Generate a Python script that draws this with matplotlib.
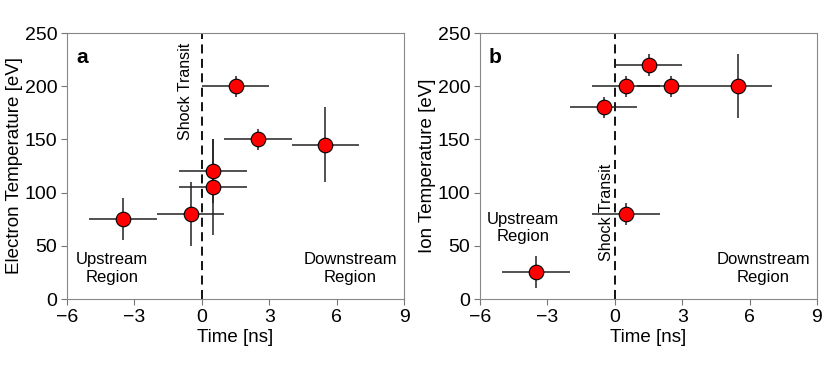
import numpy as np
import matplotlib
matplotlib.use('Agg')
import matplotlib.pyplot as plt

plt.rcParams['font.family'] = ['Liberation Sans', 'DejaVu Sans']

# panel a : electron temperature
te_t = [-3.5, -0.5, 0.5, 0.5, 1.5, 2.5, 5.5]
te_val = [75, 80, 120, 105, 200, 150, 145]
te_xerr = [1.5, 1.5, 1.5, 1.5, 1.5, 1.5, 1.5]
te_lo = [20, 30, 30, 45, 10, 10, 35]
te_hi = [20, 30, 30, 45, 10, 10, 35]

# panel b : ion temperature
ti_t = [-3.5, -0.5, 0.5, 1.5, 2.5, 5.5, 0.5]
ti_val = [25, 180, 200, 220, 200, 200, 80]
ti_xerr = [1.5, 1.5, 1.5, 1.5, 1.5, 1.5, 1.5]
ti_lo = [15, 10, 10, 10, 10, 30, 10]
ti_hi = [15, 10, 10, 10, 10, 30, 10]

xticks = [-6, -3, 0, 3, 6, 9]
yticks = [0, 50, 100, 150, 200, 250]

fig = plt.figure(figsize=(8.32, 3.65), dpi=100)
ax1 = fig.add_axes([67/832, 66/365, 337/832, 266/365])
ax2 = fig.add_axes([480/832, 66/365, 337/832, 266/365])


def panel(ax, t, v, xe, lo, hi, ylab, letter, shock_x, shock_y):
    ax.axvline(0, color='k', ls=(0, (5, 3)), lw=1.3, zorder=1)
    ax.errorbar(t, v, xerr=xe, yerr=[lo, hi], fmt='o', color='k', ecolor='#222222',
                elinewidth=1.1, capsize=0, mfc='#ff0000', mec='k', mew=0.8,
                ms=10.5, zorder=3)
    ax.set_xlim(-6, 9)
    ax.set_ylim(0, 250)
    ax.set_xticks(xticks)
    ax.set_yticks(yticks)
    ax.tick_params(direction='out', labelsize=14, length=4, color='#777777', pad=3)
    for s in ax.spines.values():
        s.set_color('#888888')
    ax.set_xlabel('Time [ns]', fontsize=13.5, labelpad=2)
    ax.set_ylabel(ylab, fontsize=13.5, labelpad=1)
    ax.text(-5.6, 227, letter, fontsize=15, fontweight='bold', ha='left', va='center')
    ax.text(shock_x, shock_y, 'Shock Transit', rotation=90, fontsize=11.5,
            ha='right', va='center')
    ax.text(6.62, 44, 'Downstream\nRegion', fontsize=12, ha='center', va='top',
            linespacing=1.2)


panel(ax1, te_t, te_val, te_xerr, te_lo, te_hi, 'Electron Temperature [eV]', 'a', -0.38, 195)
ax1.text(-4.0, 44, 'Upstream\nRegion', fontsize=12, ha='center', va='top',
         linespacing=1.2)

panel(ax2, ti_t, ti_val, ti_xerr, ti_lo, ti_hi, 'Ion Temperature [eV]', 'b', -0.05, 81)
ax2.text(-4.1, 82, 'Upstream\nRegion', fontsize=12, ha='center', va='top',
         linespacing=1.2)

fig.savefig('out.png', dpi=100)
